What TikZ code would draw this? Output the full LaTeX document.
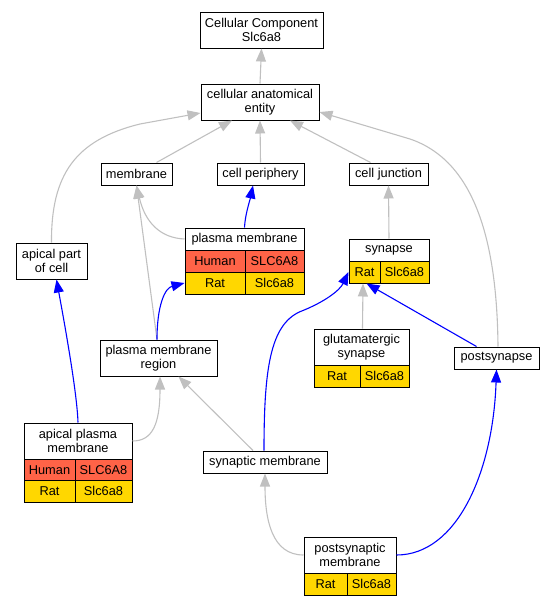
\documentclass[tikz,border=0pt]{standalone}
\usepackage{fontspec}
\setmainfont{Liberation Sans}
\usetikzlibrary{arrows.meta}
\definecolor{edgegray}{HTML}{C0C0C0}
\definecolor{humanred}{HTML}{FF6347}
\definecolor{ratgold}{HTML}{FFD700}
\begin{document}
\begin{tikzpicture}[x=1pt,y=-1pt,
  every node/.style={font=\fontsize{12.8}{13.5}\selectfont},
  box/.style={draw=black, line width=1pt, fill=white, inner sep=0pt, align=center},
  hcell/.style={box, fill=humanred, minimum height=22pt},
  rcell/.style={box, fill=ratgold, minimum height=22pt},
  gedge/.style={draw=edgegray, line width=1.1pt, -{Triangle[length=13pt,width=10pt]}},
  bedge/.style={draw=blue, line width=1.1pt, -{Triangle[length=13pt,width=10pt]}}]
\useasboundingbox (0,0) rectangle (553,605);
% nodes
\node[box, minimum width=123pt, minimum height=36pt] (cc) at (261.5,30) {Cellular Component\\Slc6a8};
\node[box, minimum width=118pt, minimum height=36pt] (cae) at (260,102) {cellular anatomical\\entity};
\node[box, minimum width=71pt, minimum height=22pt] (mem) at (136.5,174) {membrane};
\node[box, minimum width=87pt, minimum height=22pt] (cp) at (260.5,174) {cell periphery};
\node[box, minimum width=79pt, minimum height=22pt] (cj) at (388.5,174) {cell junction};
\node[box, minimum width=71pt, minimum height=36pt] (apc) at (51.5,261) {apical part\\of cell};
% plasma membrane
\node[box, minimum width=119pt, minimum height=22pt] (pmh) at (244.5,239) {plasma membrane};
\node[hcell, minimum width=60pt] (pmhl) at (215,261) {Human};
\node[hcell, minimum width=59pt] (pmhr) at (274.5,261) {SLC6A8};
\node[rcell, minimum width=60pt] (pmrl) at (215,283) {Rat};
\node[rcell, minimum width=59pt] (pmrr) at (274.5,283) {Slc6a8};
% synapse
\node[box, minimum width=80pt, minimum height=22pt] (synh) at (389,250) {synapse};
\node[rcell, minimum width=31pt] (synl) at (364.5,272) {Rat};
\node[rcell, minimum width=49pt] (synr) at (404.5,272) {Slc6a8};
% glutamatergic synapse
\node[box, minimum width=95pt, minimum height=36pt] (gsh) at (361.5,347) {glutamatergic\\synapse};
\node[rcell, minimum width=46pt] (gsl) at (337,376) {Rat};
\node[rcell, minimum width=49pt] (gsr) at (384.5,376) {Slc6a8};
\node[box, minimum width=85pt, minimum height=22pt] (ps) at (496.5,358) {postsynapse};
\node[box, minimum width=117pt, minimum height=36pt] (pmr) at (158.5,358) {plasma membrane\\region};
% apical plasma membrane
\node[box, minimum width=108pt, minimum height=36pt] (apmh) at (78,441) {apical plasma\\membrane};
\node[hcell, minimum width=51pt] (apmhl) at (49.5,470) {Human};
\node[hcell, minimum width=57pt] (apmhr) at (103.5,470) {SLC6A8};
\node[rcell, minimum width=51pt] (apmrl) at (49.5,491) {Rat};
\node[rcell, minimum width=57pt] (apmrr) at (103.5,491) {Slc6a8};
\node[box, minimum width=124pt, minimum height=22pt] (sm) at (265,462) {synaptic membrane};
% postsynaptic membrane
\node[box, minimum width=92pt, minimum height=36pt] (psmh) at (350,555) {postsynaptic\\membrane};
\node[rcell, minimum width=43pt] (psml) at (325.5,584) {Rat};
\node[rcell, minimum width=49pt] (psmr) at (371.5,584) {Slc6a8};
% edges
\draw[gedge] (cae.north) -- (cc.south);
\draw[gedge] ([xshift=20pt]mem.north) -- ([xshift=-28pt]cae.south);
\draw[gedge] (cp.north) -- (cae.south);
\draw[gedge] ([xshift=-18pt]cj.north) -- ([xshift=30pt]cae.south);
\draw[gedge] (apc.north) .. controls (51,175) and (75,140) .. (140,124) -- ([yshift=-11pt]cae.west);
\draw[gedge] ([xshift=1.5pt]ps.north) .. controls (497,235) and (472,160) .. (410,139) -- ([yshift=-10pt]cae.east);
\draw[bedge] (pmh.north) .. controls (245,215) and (250,200) .. ([xshift=-7.5pt]cp.south);
\draw[gedge] (pmh.west) .. controls (160,238) and (145,222) .. (mem.south);
\draw[gedge] ([xshift=-1.5pt]pmr.north) -- (mem.south);
\draw[bedge] ([xshift=-1.5pt]pmr.north) .. controls (157,305) and (165,288) .. (pmrl.west);
\draw[gedge] (synh.north) -- (cj.south);
\draw[gedge] ([xshift=1pt]gsh.north) -- ([xshift=-1.5pt]synl.south);
\draw[bedge] ([xshift=-20pt]ps.north) -- ([xshift=2pt]synl.south);
\draw[bedge] ([xshift=-1pt]sm.north) .. controls (264,370) and (270,325) .. (300,311.7) .. controls (325,302) and (340,290) .. (synl.west);
\draw[gedge] ([xshift=-12pt]sm.north) -- ([xshift=20pt]pmr.south);
\draw[gedge] (apmh.east) .. controls (152,441) and (160,425) .. ([xshift=1.5pt]pmr.south);
\draw[bedge] (apmh.north) .. controls (77,390) and (62,310) .. ([xshift=5pt]apc.south);
\draw[gedge] (psmh.west) .. controls (272,555) and (265,520) .. (sm.south);
\draw[bedge] (psmh.east) .. controls (457,555) and (493,472) .. (ps.south);
\end{tikzpicture}
\end{document}
